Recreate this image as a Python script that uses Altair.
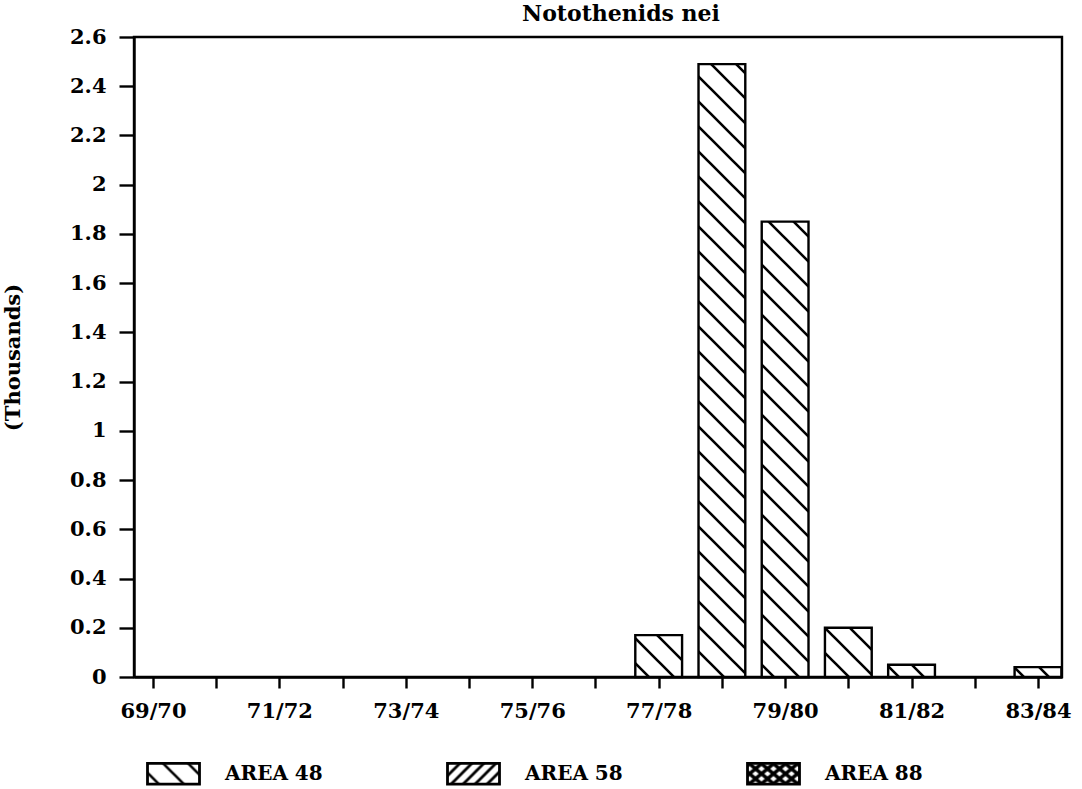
import json
import altair as alt
import pandas as pd

# ---- data ----
seasons = ["69/70", "70/71", "71/72", "72/73", "73/74", "74/75", "75/76", "76/77",
           "77/78", "78/79", "79/80", "80/81", "81/82", "82/83", "83/84"]
area48 = [0, 0, 0, 0, 0, 0, 0, 0, 0.17, 2.49, 1.85, 0.20, 0.05, 0, 0.04]
areas = ["AREA 48", "AREA 58", "AREA 88"]
area_fills = ["url(#p48)", "url(#p58)", "url(#p88)"]
y_ticks = [round(i * 0.2, 1) for i in range(14)]

df = pd.DataFrame({
    "idx": list(range(len(seasons))),
    "season": seasons,
    "value": area48,
    "area": ["AREA 48"] * len(seasons),
})

FONT = "DejaVu Serif"
label_expr = "datum.value % 2 == 0 ? " + json.dumps(seasons) + "[datum.value] : ''"

chart = (
    alt.Chart(df)
    .transform_filter("datum.value > 0")
    .transform_calculate(x0="datum.idx - 0.37", x1="datum.idx + 0.37")
    .mark_rect(stroke="black", strokeWidth=2.4)
    .encode(
        x=alt.X(
            "x0:Q",
            scale=alt.Scale(domain=[-0.30, 14.38], nice=False, zero=False),
            axis=alt.Axis(values=list(range(len(seasons))), labelExpr=label_expr,
                          title=None, tickSize=11, labelPadding=12),
        ),
        x2="x1:Q",
        y=alt.Y(
            "value:Q",
            scale=alt.Scale(domain=[0, 2.6], nice=False),
            axis=alt.Axis(values=y_ticks, format="~g", title="(Thousands)",
                          tickSize=15, labelPadding=13, titlePadding=46),
        ),
        y2=alt.datum(0),
        fill=alt.Fill(
            "area:N",
            scale=alt.Scale(domain=areas, range=area_fills),
            legend=alt.Legend(
                title=None, orient="none", direction="horizontal", columns=3,
                legendX=12, legendY=709,
                symbolType="M-1,-0.4H1V0.4H-1Z", symbolSize=2704,
                symbolStrokeColor="black", symbolStrokeWidth=2.8,
                labelOffset=24, columnPadding=118, padding=0,
                labelFont=FONT, labelFontSize=20, labelFontWeight="bold",
                labelColor="black", labelLimit=300,
            ),
        ),
    )
    .properties(
        width=928,
        height=640,
        title=alt.Title("Notothenids nei", font=FONT, fontSize=22, fontWeight="bold",
                        color="black", offset=10, dy=10, dx=23, anchor="middle"),
        autosize="none",
        padding={"left": 134, "top": 37, "right": 20, "bottom": 112},
    )
    .configure_view(stroke="black", strokeWidth=2.4)
    .configure_axis(
        grid=False, domainColor="black", domainWidth=2.4, tickColor="black", tickWidth=2.4,
        labelFont=FONT, labelFontSize=21, labelFontWeight="bold", labelColor="black",
        titleFont=FONT, titleFontSize=21, titleFontWeight="bold", titleColor="black",
    )
)

chart.save("out.html", embed_options={"renderer": "svg", "actions": False})

# hatch patterns referenced by the fill scale range (and a page without margin,
# so that the padding above places the plot exactly)
defs = (
    '<style>body{margin:0 !important;overflow:hidden}</style>'
    '<svg width="0" height="0" style="position:absolute;left:0;top:0"><defs>'
    '<pattern id="p48" patternUnits="userSpaceOnUse" width="25" height="25">'
    '<rect width="25" height="25" fill="white"/>'
    '<path d="M0,0L25,25M-3,22L3,28M22,-3L28,3" stroke="black" stroke-width="2.6"/>'
    '</pattern>'
    '<pattern id="p58" patternUnits="userSpaceOnUse" width="12" height="12">'
    '<rect width="12" height="12" fill="white"/>'
    '<path d="M0,12L12,0M-3,3L3,-3M9,15L15,9" stroke="black" stroke-width="2.8"/>'
    '</pattern>'
    '<pattern id="p88" patternUnits="userSpaceOnUse" width="12" height="10">'
    '<rect width="12" height="10" fill="white"/>'
    '<path d="M0,0L12,10M0,10L12,0" stroke="black" stroke-width="3.6"/>'
    '</pattern>'
    '</defs></svg>'
)
with open("out.html", encoding="utf-8") as f:
    html = f.read()
if "<body>" in html:
    html = html.replace("<body>", "<body>" + defs, 1)
else:
    html = html.replace("</body>", defs + "</body>", 1)
with open("out.html", "w", encoding="utf-8") as f:
    f.write(html)
